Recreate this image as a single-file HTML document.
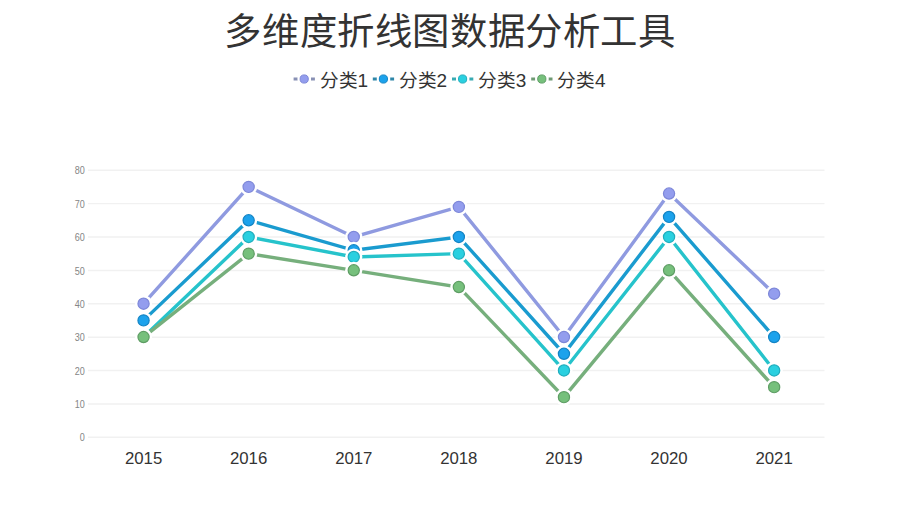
<!DOCTYPE html>
<html lang="zh-CN"><head><meta charset="utf-8"><title>多维度折线图数据分析工具</title>
<style>
html,body{margin:0;padding:0;background:#fff;}
body{width:900px;height:506px;overflow:hidden;position:relative;font-family:"Liberation Sans",sans-serif;}
h1{position:absolute;left:0;width:900px;margin:0;text-align:center;font-weight:normal;font-size:37.4px;letter-spacing:0.6px;line-height:60px;top:1.5px;color:#333;}
svg{position:absolute;left:0;top:0;}
.yl{font-size:10.4px;fill:#858585;font-family:"Liberation Sans",sans-serif;}
.xl{font-size:16.8px;fill:#333;font-family:"Liberation Sans",sans-serif;}
.lgd{font-size:19px;}
.lg{font-size:18.7px;fill:#333;font-family:"Liberation Sans",sans-serif;}
</style></head><body>
<h1>多维度折线图数据分析工具</h1>
<svg width="900" height="506" viewBox="0 0 900 506">
<line x1="88" y1="437.30" x2="824.5" y2="437.30" stroke="#f1f1f1" stroke-width="1.4"/>
<line x1="88" y1="403.93" x2="824.5" y2="403.93" stroke="#f1f1f1" stroke-width="1.4"/>
<line x1="88" y1="370.55" x2="824.5" y2="370.55" stroke="#f1f1f1" stroke-width="1.4"/>
<line x1="88" y1="337.18" x2="824.5" y2="337.18" stroke="#f1f1f1" stroke-width="1.4"/>
<line x1="88" y1="303.80" x2="824.5" y2="303.80" stroke="#f1f1f1" stroke-width="1.4"/>
<line x1="88" y1="270.43" x2="824.5" y2="270.43" stroke="#f1f1f1" stroke-width="1.4"/>
<line x1="88" y1="237.05" x2="824.5" y2="237.05" stroke="#f1f1f1" stroke-width="1.4"/>
<line x1="88" y1="203.67" x2="824.5" y2="203.67" stroke="#f1f1f1" stroke-width="1.4"/>
<line x1="88" y1="170.30" x2="824.5" y2="170.30" stroke="#f1f1f1" stroke-width="1.4"/>
<text transform="translate(84.7 441.40) scale(0.87 1)" text-anchor="end" class="yl">0</text>
<text transform="translate(84.7 408.02) scale(0.87 1)" text-anchor="end" class="yl">10</text>
<text transform="translate(84.7 374.65) scale(0.87 1)" text-anchor="end" class="yl">20</text>
<text transform="translate(84.7 341.27) scale(0.87 1)" text-anchor="end" class="yl">30</text>
<text transform="translate(84.7 307.90) scale(0.87 1)" text-anchor="end" class="yl">40</text>
<text transform="translate(84.7 274.52) scale(0.87 1)" text-anchor="end" class="yl">50</text>
<text transform="translate(84.7 241.15) scale(0.87 1)" text-anchor="end" class="yl">60</text>
<text transform="translate(84.7 207.77) scale(0.87 1)" text-anchor="end" class="yl">70</text>
<text transform="translate(84.7 174.40) scale(0.87 1)" text-anchor="end" class="yl">80</text>
<text x="143.6" y="464.2" text-anchor="middle" class="xl">2015</text>
<text x="248.6" y="464.2" text-anchor="middle" class="xl">2016</text>
<text x="353.8" y="464.2" text-anchor="middle" class="xl">2017</text>
<text x="458.8" y="464.2" text-anchor="middle" class="xl">2018</text>
<text x="564.0" y="464.2" text-anchor="middle" class="xl">2019</text>
<text x="669.0" y="464.2" text-anchor="middle" class="xl">2020</text>
<text x="774.1" y="464.2" text-anchor="middle" class="xl">2021</text>
<polyline points="143.55,303.70 248.65,186.89 353.75,236.95 458.85,206.91 563.95,337.07 669.05,193.56 774.15,293.69" fill="none" stroke="#8f9ae0" stroke-width="3.4" stroke-linejoin="miter"/>
<circle cx="143.55" cy="303.70" r="8.6" fill="#fff"/>
<circle cx="143.55" cy="303.70" r="5.6" fill="#939dee" stroke="#7d87d8" stroke-width="1.2"/>
<circle cx="248.65" cy="186.89" r="8.6" fill="#fff"/>
<circle cx="248.65" cy="186.89" r="5.6" fill="#939dee" stroke="#7d87d8" stroke-width="1.2"/>
<circle cx="353.75" cy="236.95" r="8.6" fill="#fff"/>
<circle cx="353.75" cy="236.95" r="5.6" fill="#939dee" stroke="#7d87d8" stroke-width="1.2"/>
<circle cx="458.85" cy="206.91" r="8.6" fill="#fff"/>
<circle cx="458.85" cy="206.91" r="5.6" fill="#939dee" stroke="#7d87d8" stroke-width="1.2"/>
<circle cx="563.95" cy="337.07" r="8.6" fill="#fff"/>
<circle cx="563.95" cy="337.07" r="5.6" fill="#939dee" stroke="#7d87d8" stroke-width="1.2"/>
<circle cx="669.05" cy="193.56" r="8.6" fill="#fff"/>
<circle cx="669.05" cy="193.56" r="5.6" fill="#939dee" stroke="#7d87d8" stroke-width="1.2"/>
<circle cx="774.15" cy="293.69" r="8.6" fill="#fff"/>
<circle cx="774.15" cy="293.69" r="5.6" fill="#939dee" stroke="#7d87d8" stroke-width="1.2"/>
<polyline points="143.55,320.39 248.65,220.26 353.75,250.30 458.85,236.95 563.95,353.76 669.05,216.92 774.15,337.07" fill="none" stroke="#1a9bcf" stroke-width="3.4" stroke-linejoin="miter"/>
<circle cx="143.55" cy="320.39" r="8.6" fill="#fff"/>
<circle cx="143.55" cy="320.39" r="5.6" fill="#1ca2ec" stroke="#1384c4" stroke-width="1.2"/>
<circle cx="248.65" cy="220.26" r="8.6" fill="#fff"/>
<circle cx="248.65" cy="220.26" r="5.6" fill="#1ca2ec" stroke="#1384c4" stroke-width="1.2"/>
<circle cx="353.75" cy="250.30" r="8.6" fill="#fff"/>
<circle cx="353.75" cy="250.30" r="5.6" fill="#1ca2ec" stroke="#1384c4" stroke-width="1.2"/>
<circle cx="458.85" cy="236.95" r="8.6" fill="#fff"/>
<circle cx="458.85" cy="236.95" r="5.6" fill="#1ca2ec" stroke="#1384c4" stroke-width="1.2"/>
<circle cx="563.95" cy="353.76" r="8.6" fill="#fff"/>
<circle cx="563.95" cy="353.76" r="5.6" fill="#1ca2ec" stroke="#1384c4" stroke-width="1.2"/>
<circle cx="669.05" cy="216.92" r="8.6" fill="#fff"/>
<circle cx="669.05" cy="216.92" r="5.6" fill="#1ca2ec" stroke="#1384c4" stroke-width="1.2"/>
<circle cx="774.15" cy="337.07" r="8.6" fill="#fff"/>
<circle cx="774.15" cy="337.07" r="5.6" fill="#1ca2ec" stroke="#1384c4" stroke-width="1.2"/>
<polyline points="143.55,337.07 248.65,236.95 353.75,256.98 458.85,253.64 563.95,370.45 669.05,236.95 774.15,370.45" fill="none" stroke="#26c3cb" stroke-width="3.4" stroke-linejoin="miter"/>
<circle cx="143.55" cy="337.07" r="8.6" fill="#fff"/>
<circle cx="143.55" cy="337.07" r="5.6" fill="#2ad0e0" stroke="#20adbd" stroke-width="1.2"/>
<circle cx="248.65" cy="236.95" r="8.6" fill="#fff"/>
<circle cx="248.65" cy="236.95" r="5.6" fill="#2ad0e0" stroke="#20adbd" stroke-width="1.2"/>
<circle cx="353.75" cy="256.98" r="8.6" fill="#fff"/>
<circle cx="353.75" cy="256.98" r="5.6" fill="#2ad0e0" stroke="#20adbd" stroke-width="1.2"/>
<circle cx="458.85" cy="253.64" r="8.6" fill="#fff"/>
<circle cx="458.85" cy="253.64" r="5.6" fill="#2ad0e0" stroke="#20adbd" stroke-width="1.2"/>
<circle cx="563.95" cy="370.45" r="8.6" fill="#fff"/>
<circle cx="563.95" cy="370.45" r="5.6" fill="#2ad0e0" stroke="#20adbd" stroke-width="1.2"/>
<circle cx="669.05" cy="236.95" r="8.6" fill="#fff"/>
<circle cx="669.05" cy="236.95" r="5.6" fill="#2ad0e0" stroke="#20adbd" stroke-width="1.2"/>
<circle cx="774.15" cy="370.45" r="8.6" fill="#fff"/>
<circle cx="774.15" cy="370.45" r="5.6" fill="#2ad0e0" stroke="#20adbd" stroke-width="1.2"/>
<polyline points="143.55,337.07 248.65,253.64 353.75,270.32 458.85,287.01 563.95,397.15 669.05,270.32 774.15,387.14" fill="none" stroke="#76af7c" stroke-width="3.4" stroke-linejoin="miter"/>
<circle cx="143.55" cy="337.07" r="8.6" fill="#fff"/>
<circle cx="143.55" cy="337.07" r="5.6" fill="#76c07c" stroke="#5e9d64" stroke-width="1.2"/>
<circle cx="248.65" cy="253.64" r="8.6" fill="#fff"/>
<circle cx="248.65" cy="253.64" r="5.6" fill="#76c07c" stroke="#5e9d64" stroke-width="1.2"/>
<circle cx="353.75" cy="270.32" r="8.6" fill="#fff"/>
<circle cx="353.75" cy="270.32" r="5.6" fill="#76c07c" stroke="#5e9d64" stroke-width="1.2"/>
<circle cx="458.85" cy="287.01" r="8.6" fill="#fff"/>
<circle cx="458.85" cy="287.01" r="5.6" fill="#76c07c" stroke="#5e9d64" stroke-width="1.2"/>
<circle cx="563.95" cy="397.15" r="8.6" fill="#fff"/>
<circle cx="563.95" cy="397.15" r="5.6" fill="#76c07c" stroke="#5e9d64" stroke-width="1.2"/>
<circle cx="669.05" cy="270.32" r="8.6" fill="#fff"/>
<circle cx="669.05" cy="270.32" r="5.6" fill="#76c07c" stroke="#5e9d64" stroke-width="1.2"/>
<circle cx="774.15" cy="387.14" r="8.6" fill="#fff"/>
<circle cx="774.15" cy="387.14" r="5.6" fill="#76c07c" stroke="#5e9d64" stroke-width="1.2"/>
<line x1="293.6" y1="79" x2="314.90000000000003" y2="79" stroke="#8890b4" stroke-width="2.9" stroke-dasharray="4 2.2 9 2.2 4"/>
<circle cx="304.20000000000005" cy="79" r="6.5" fill="#fff"/>
<circle cx="304.20000000000005" cy="79" r="4.1" fill="#939dee" stroke="#7d87d8" stroke-width="1"/>
<text x="319.70000000000005" y="87.1" class="lg">分类<tspan class="lgd" dx="-0.3">1</tspan></text>
<line x1="372.8" y1="79" x2="394.1" y2="79" stroke="#2e86a8" stroke-width="2.9" stroke-dasharray="4 2.2 9 2.2 4"/>
<circle cx="383.40000000000003" cy="79" r="6.5" fill="#fff"/>
<circle cx="383.40000000000003" cy="79" r="4.1" fill="#1ca2ec" stroke="#1384c4" stroke-width="1"/>
<text x="398.90000000000003" y="87.1" class="lg">分类<tspan class="lgd" dx="-0.3">2</tspan></text>
<line x1="452.0" y1="79" x2="473.3" y2="79" stroke="#38aab2" stroke-width="2.9" stroke-dasharray="4 2.2 9 2.2 4"/>
<circle cx="462.6" cy="79" r="6.5" fill="#fff"/>
<circle cx="462.6" cy="79" r="4.1" fill="#2ad0e0" stroke="#20adbd" stroke-width="1"/>
<text x="478.1" y="87.1" class="lg">分类<tspan class="lgd" dx="-0.3">3</tspan></text>
<line x1="531.2" y1="79" x2="552.5" y2="79" stroke="#6f9a74" stroke-width="2.9" stroke-dasharray="4 2.2 9 2.2 4"/>
<circle cx="541.8000000000001" cy="79" r="6.5" fill="#fff"/>
<circle cx="541.8000000000001" cy="79" r="4.1" fill="#76c07c" stroke="#5e9d64" stroke-width="1"/>
<text x="557.3000000000001" y="87.1" class="lg">分类<tspan class="lgd" dx="-0.3">4</tspan></text>
</svg>
</body></html>
